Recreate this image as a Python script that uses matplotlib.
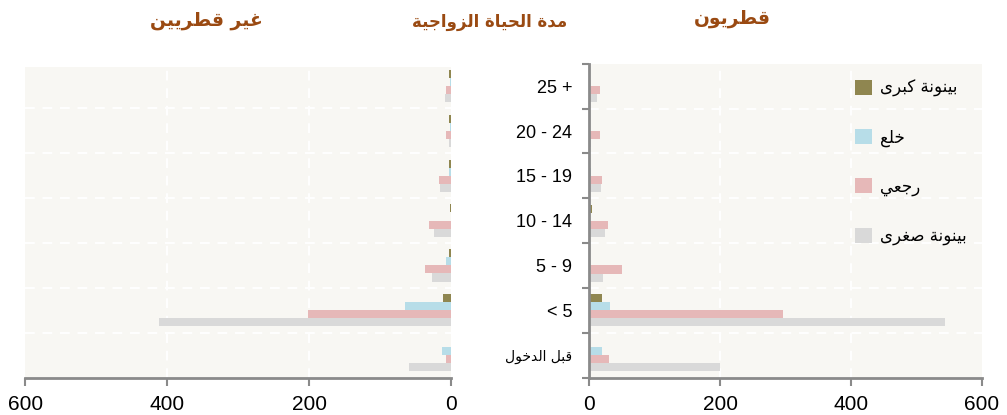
import matplotlib
matplotlib.use("Agg")
import matplotlib.pyplot as plt
from matplotlib.patches import Patch
import numpy as np

# minimal arabic shaping (presentation forms + RTL order), no reshaper lib available
ARABIC_FORMS = {
    'ا': (0xFE8D, False), 'ب': (0xFE8F, True), 'ة': (0xFE93, False), 'ج': (0xFE9D, True),
    'ح': (0xFEA1, True), 'خ': (0xFEA5, True), 'د': (0xFEA9, False), 'ر': (0xFEAD, False),
    'ز': (0xFEAF, False), 'ص': (0xFEB9, True), 'ط': (0xFEC1, True), 'ع': (0xFEC9, True),
    'غ': (0xFECD, True), 'ق': (0xFED5, True), 'ك': (0xFED9, True), 'ل': (0xFEDD, True),
    'م': (0xFEE1, True), 'ن': (0xFEE5, True), 'و': (0xFEED, False), 'ى': (0xFEEF, False),
    'ي': (0xFEF1, True),
}


def ar(text):
    out = []
    for i, ch in enumerate(text):
        if ch not in ARABIC_FORMS:
            out.append(ch)
            continue
        base, dual = ARABIC_FORMS[ch]
        prev = text[i - 1] if i > 0 else ''
        nxt = text[i + 1] if i + 1 < len(text) else ''
        jp = prev in ARABIC_FORMS and ARABIC_FORMS[prev][1]
        jn = dual and nxt in ARABIC_FORMS
        if jp and jn:
            off = 3
        elif jp:
            off = 1
        elif jn:
            off = 2
        else:
            off = 0
        out.append(chr(base + off))
    return ''.join(reversed(out))


# data, bottom -> top
categories = ['قبل الدخول', '< 5', '5 - 9', '10 - 14', '15 - 19', '20 - 24', '25 +']
series_names = ['بينونة كبرى', 'خلع', 'رجعي', 'بينونة صغرى']

qatari_major = [1, 20, 0, 4, 0, 0, 1]
qatari_khul = [20, 32, 0, 0, 3, 0, 0]
qatari_raji = [30, 297, 50, 29, 19, 16, 16]
qatari_minor = [200, 543, 22, 24, 18, 3, 12]

nonqatari_major = [0, 12, 3, 2.5, 3, 3, 3]
nonqatari_khul = [13, 66, 8, 0, 4, 2, 2]
nonqatari_raji = [8, 202, 37, 31, 17, 8, 7]
nonqatari_minor = [60, 412, 28, 24, 16, 4, 9]

colors = ['#8f8650', '#b7dde8', '#e6b8b8', '#d9d9d9']
offsets = [0.27, 0.09, -0.09, -0.27]
bg = '#f8f7f3'
brown = '#9a4a12'
axis_gray = '#8a8a8a'

AR_FONT = ['DejaVu Sans']
NUM_FONT = ['Liberation Sans Narrow', 'Liberation Sans', 'DejaVu Sans']

fig = plt.figure(figsize=(10.07, 4.15), dpi=100)
axL = fig.add_axes([0.0253, 0.0892, 0.423, 0.749])
axR = fig.add_axes([0.585, 0.0892, 0.390, 0.757])

y = np.arange(len(categories))
left_vals = [nonqatari_major, nonqatari_khul, nonqatari_raji, nonqatari_minor]
right_vals = [qatari_major, qatari_khul, qatari_raji, qatari_minor]

for ax, vals in ((axL, left_vals), (axR, right_vals)):
    ax.set_facecolor(bg)
    for v, c, o in zip(vals, colors, offsets):
        ax.barh(y + o, v, height=0.18, color=c, zorder=2)
    for b in np.arange(len(categories) - 1) + 0.5:
        ax.axhline(b, color='white', lw=1.4, ls=(0, (5, 4)), zorder=1)
    for g in (200, 400):
        ax.axvline(g, color='white', lw=1.4, ls=(0, (5, 4)), zorder=1)
    ax.set_xlim(0, 600)
    ax.set_xticks([0, 200, 400, 600])
    ax.tick_params(axis='x', length=6, width=1.5, color=axis_gray, pad=6, labelsize=15)
    for lab in ax.get_xticklabels():
        lab.set_family(NUM_FONT)
    for s in ('top', 'right'):
        ax.spines[s].set_visible(False)
    ax.spines['bottom'].set_color(axis_gray)
    ax.spines['bottom'].set_linewidth(2)

axL.set_xlim(600, 0)
axL.set_ylim(-0.51, 6.42)
axL.spines['left'].set_visible(False)
axL.set_yticks([])

axR.set_ylim(-0.51, 6.49)
axR.spines['left'].set_color(axis_gray)
axR.spines['left'].set_linewidth(2)
axR.set_yticks(y)
axR.set_yticks(np.arange(-1, len(categories)) + 0.5, minor=True)
axR.tick_params(axis='y', which='major', length=0, pad=12)
axR.tick_params(axis='y', which='minor', length=5, width=1.5, color=axis_gray)
labels = [ar(c) if c[0] in ARABIC_FORMS else c for c in categories]
axR.set_yticklabels(labels)
for i, lab in enumerate(axR.get_yticklabels()):
    if categories[i][0] in ARABIC_FORMS:
        lab.set_family(AR_FONT)
        lab.set_fontsize(10)
    else:
        lab.set_family(NUM_FONT)
        lab.set_fontsize(13)

handles = [Patch(facecolor=c, edgecolor='none') for c in colors]
axR.legend(handles, [ar(n) for n in series_names], loc='upper left',
           bbox_to_anchor=(840 / 1007, 1 - 64 / 415), bbox_transform=fig.transFigure,
           frameon=False, handlelength=1.0, handleheight=1.0, handletextpad=0.5,
           labelspacing=1.86, prop={'family': AR_FONT, 'size': 12})

fig.text(206 / 1007, 1 - 20 / 415, ar('غير قطريين'), ha='center', va='center',
         color=brown, fontsize=13.5, fontweight='bold', family=AR_FONT)
fig.text(732 / 1007, 1 - 18 / 415, ar('قطريون'), ha='center', va='center',
         color=brown, fontsize=13.5, fontweight='bold', family=AR_FONT)
fig.text(490 / 1007, 1 - 22 / 415, ar('مدة الحياة الزواجية'), ha='center', va='center',
         color=brown, fontsize=12, fontweight='bold', family=AR_FONT)

fig.savefig('out.png', dpi=100, facecolor='white')
